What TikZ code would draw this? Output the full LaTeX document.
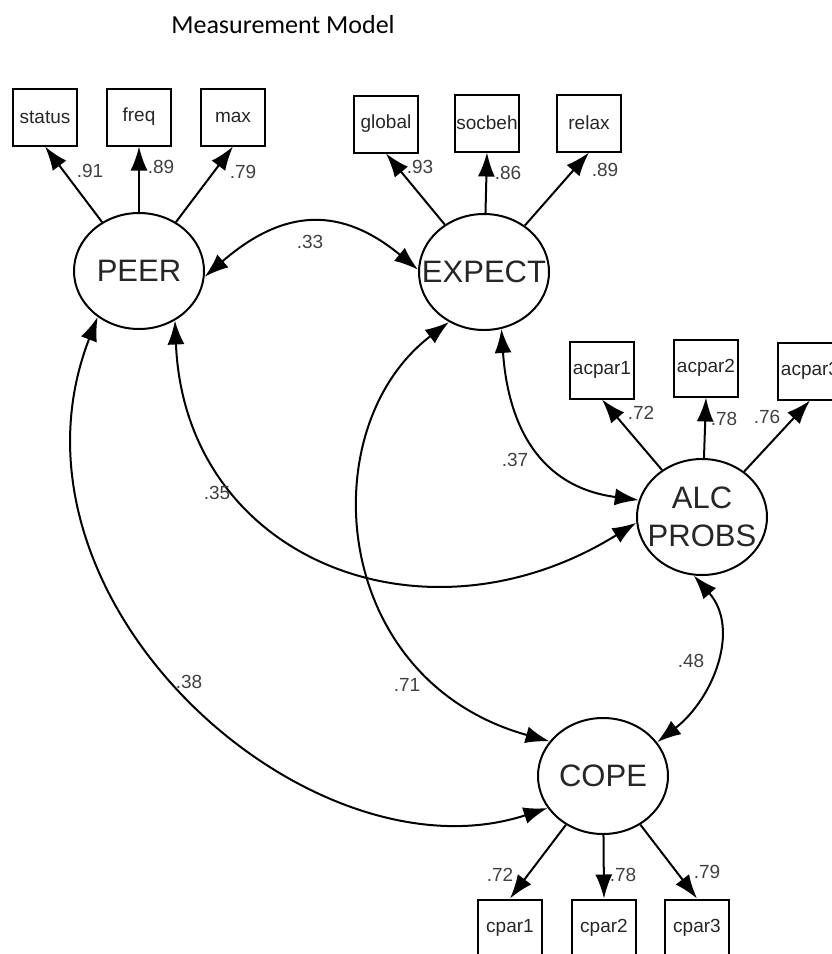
\documentclass[tikz,border=0pt]{standalone}
\usepackage{fontspec}
\setmainfont{Liberation Sans}
\newfontfamily\titlefont{Carlito}
\usepackage{tikz}
\usetikzlibrary{shapes,arrows.meta}

\begin{document}
\begin{tikzpicture}[x=1pt,y=1pt,line width=2pt]
    \tikzstyle{observed} = [draw, shape=rectangle, minimum width=64pt, minimum height=57pt, inner sep=0pt, text=black!85, font=\fontsize{19}{23}\selectfont]
    \tikzstyle{latent} = [draw, shape=ellipse, minimum width=130pt, minimum height=116pt, inner sep=0pt, align=center, text=black!85, font=\fontsize{31}{38}\selectfont]
    \tikzstyle{coef} = [inner sep=0pt, text=black!75, font=\fontsize{19}{23}\selectfont]
    \tikzstyle{load} = [-{Latex[length=24pt,width=17pt]}]
    \tikzstyle{corr} = [{Latex[length=24pt,width=17pt]}-{Latex[length=24pt,width=17pt]}]
    \useasboundingbox (0,0) rectangle (831,-954);
    \node[anchor=base, font=\titlefont\fontsize{26}{31}\selectfont] at (283,-33) (title) {Measurement Model};
    %Latent variables
    \node[latent] at (139,-271) (peer) {\makebox[0pt]{PEER}};
    \node[latent] at (484,-272) (expect) {\makebox[0pt]{EXPECT}};
    \node[latent] at (702,-517) (alc) {\makebox[0pt]{ALC}\\\makebox[0pt]{PROBS}};
    \node[latent] at (603,-776) (cope) {\makebox[0pt]{COPE}};
    %Indicators
    \node[observed] at (45,-117) (status) {status};
    \node[observed] at (139,-117) (freq) {freq};
    \node[observed] at (233,-117) (max) {max};
    \node[observed] at (386,-124) (global) {global};
    \node[observed] at (487,-123) (socbeh) {socbeh};
    \node[observed] at (589,-123) (relax) {relax};
    \node[observed] at (602,-370) (acpar1) {acpar1};
    \node[observed] at (706,-368) (acpar2) {acpar2};
    \node[observed] at (810,-371) (acpar3) {acpar3};
    \node[observed] at (510,-928) (cpar1) {cpar1};
    \node[observed] at (604,-928) (cpar2) {cpar2};
    \node[observed] at (697,-928) (cpar3) {cpar3};
    %Loadings
    \draw[load] (peer) -- (status.south);
    \draw[load] (peer) -- (freq.south);
    \draw[load] (peer) -- (max.south);
    \draw[load] (expect) -- (global.south);
    \draw[load] (expect) -- (socbeh.south);
    \draw[load] (expect) -- (relax.south);
    \draw[load] (alc) -- (acpar1.south);
    \draw[load] (alc) -- (acpar2.south);
    \draw[load] (alc) -- (acpar3.south);
    \draw[load] (cope) -- (cpar1.north);
    \draw[load] (cope) -- (cpar2.north);
    \draw[load] (cope) -- (cpar3.north);
    %Correlations
    \draw[corr] (peer.-5) .. controls (285,-207) and (342,-207) .. (expect.178);
    \draw[corr] (peer.-54) .. controls (185,-560) and (425,-654) .. (alc.185);
    \draw[corr] (peer.-132) .. controls (-12,-600) and (309,-886) .. (cope.-150);
    \draw[corr] (expect.-125) .. controls (311,-427) and (329,-680) .. (cope.147);
    \draw[corr] (expect.-73) .. controls (508,-425) and (539,-487) .. (alc.165);
    \draw[corr] (alc.-98) .. controls (741,-629) and (713,-699) .. (cope.32);
    %Coefficients
    \node[coef] at (90,-171) (lstatus) {.91};
    \node[coef] at (161,-167) (lfreq) {.89};
    \node[coef] at (243,-172) (lmax) {.79};
    \node[coef] at (420,-167) (lglobal) {.93};
    \node[coef] at (508,-173) (lsocbeh) {.86};
    \node[coef] at (605,-170) (lrelax) {.89};
    \node[coef] at (641,-413) (lacpar1) {.72};
    \node[coef] at (724,-419) (lacpar2) {.78};
    \node[coef] at (767,-417) (lacpar3) {.76};
    \node[coef] at (500,-875) (lcpar1) {.72};
    \node[coef] at (623,-875) (lcpar2) {.78};
    \node[coef] at (707,-872) (lcpar3) {.79};
    \node[coef] at (310,-242) (rpeerexp) {.33};
    \node[coef] at (217,-493) (rpeeralc) {.35};
    \node[coef] at (189,-682) (rpeercope) {.38};
    \node[coef] at (407,-685) (rexpcope) {.71};
    \node[coef] at (515,-460) (rexpalc) {.37};
    \node[coef] at (691,-661) (ralccope) {.48};
\end{tikzpicture}
\end{document}
